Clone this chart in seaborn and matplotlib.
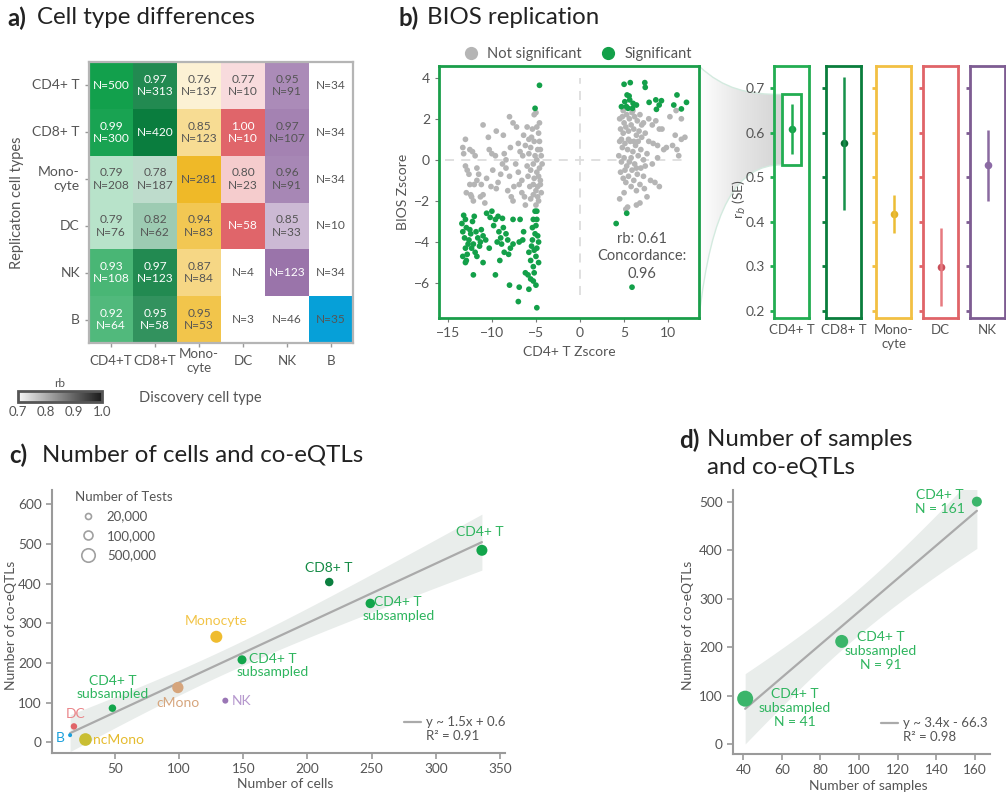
import numpy as np
import pandas as pd
import matplotlib
matplotlib.use("Agg")
import matplotlib.pyplot as plt
import seaborn as sns
from matplotlib.colors import LinearSegmentedColormap, Normalize
from matplotlib.cm import ScalarMappable
from matplotlib.lines import Line2D
from matplotlib.path import Path
from matplotlib.patches import PathPatch, Rectangle

sns.set_style("ticks")
plt.rcParams["font.family"] = ["Lato", "DejaVu Sans"]
plt.rcParams["axes.edgecolor"] = "#999999"
plt.rcParams["xtick.color"] = "#999999"
plt.rcParams["ytick.color"] = "#999999"
plt.rcParams["xtick.labelcolor"] = "#555555"
plt.rcParams["ytick.labelcolor"] = "#555555"
plt.rcParams["axes.labelcolor"] = "#555555"
TXT = "#555555"

# ---------------- data ----------------
# (a) cell type differences: replication rows x discovery columns
discovery_types = ["CD4+T", "CD8+T", "Mono-\ncyte", "DC", "NK", "B"]
replication_types = ["CD4+ T", "CD8+ T", "Mono-\ncyte", "DC", "NK", "B"]
nan = np.nan
rb_matrix = [
    [nan, 0.97, 0.76, 0.77, 0.95, nan],
    [0.99, nan, 0.85, 1.00, 0.97, nan],
    [0.79, 0.78, nan, 0.80, 0.96, nan],
    [0.79, 0.82, 0.94, nan, 0.85, nan],
    [0.93, 0.97, 0.87, nan, nan, nan],
    [0.92, 0.95, 0.95, nan, nan, nan],
]
n_matrix = [
    [500, 313, 137, 10, 91, 34],
    [300, 420, 123, 10, 107, 34],
    [208, 187, 281, 23, 91, 34],
    [76, 62, 83, 58, 33, 10],
    [108, 123, 84, 4, 123, 34],
    [64, 58, 53, 3, 46, 35],
]
column_colors = ["#12a04c", "#0a7d3e", "#efb928", "#e0656a", "#9a74aa", "#06a0d8"]

# (b) BIOS replication z-scores
sig_x = [-13.2, -13.0, -13.4, -12.9, -13.3, -13.1, -12.5, -12.2, -12.0, -12.4, -12.6, -12.1,
         -11.8, -11.6, -11.4, -11.2, -11.0, -13.0, -12.8, -13.3, -12.9, -12.3, -11.9, -11.7,
         -11.0, -12.1, -10.0, -10.2, -10.6, -9.6, -9.3, -8.8, -9.2, -9.0, -8.7, -8.4, -8.2,
         -9.4, -8.9, -9.1, -8.6, -7.9, -7.6, -8.1, -7.6, -6.8, -6.4, -6.9, -6.5, -9.6, -8.0,
         -6.9, -5.8, -7.0, -4.9, -6.2, -5.9, -5.6, -5.3, -5.0, -5.2, -5.6, -5.5, -5.2, -4.9,
         -4.7, -4.8, -5.1, -5.4, -5.0, -4.9, -5.3, -5.1, -4.9, -5.4, -4.7, -5.8, -5.0, -5.3,
         -10.7, -10.3, -11.3, -12.7, -13.0, -9.8, -4.6, -5.1,
         5.0, 5.7, 7.35, 7.4, 5.34, 5.57, 5.08, 5.64, 6.02, 6.4, 5.27, 4.7, 5.45, 5.95, 7.84,
         8.6, 9.24, 8.98, 8.67, 10.64, 11.0, 11.5, 12.08, 4.1, 5.3, 5.9]
sig_y = [-2.7, -2.9, -3.1, -3.3, -3.5, -3.8, -3.4, -3.0, -2.75, -3.6, -3.9, -4.1,
         -3.5, -3.8, -4.2, -3.4, -3.7, -4.3, -4.6, -4.7, -4.9, -4.3, -4.5, -4.7,
         -5.0, -5.6, -2.5, -2.8, -2.6, -2.9, -2.75, -2.85, -3.5, -3.8, -3.3, -3.6, -3.9,
         -4.0, -4.1, -4.9, -4.5, -4.3, -4.1, -4.6, -2.9, -2.9, -3.5, -4.0, -3.9, -5.6, -6.1,
         -6.2, -6.3, -6.9, -7.2, -5.5, -5.6, -5.8, -5.9, -6.1, -5.5, -4.9, -4.2, -4.4, -4.3,
         -4.0, -3.7, -3.6, -3.3, -3.2, -2.9, -2.9, -2.5, -2.5, -3.9, -5.0, -4.5, -4.7, -5.2,
         -3.9, -4.3, -4.0, -4.1, -5.0, -3.2, 3.63, 2.51,
         3.68, 3.76, 3.76, 3.53, 3.16, 3.11, 2.83, 2.92, 2.75, 2.67, 2.59, 2.59, 2.51, 2.51, 2.80,
         2.92, 2.88, 2.67, 2.46, 2.67, 3.16, 2.48, 2.80, -3.1, -2.6, -6.2]
ns_x = [-13.3, -13.0, -13.2, -12.5, -12.2, -11.9, -12.8, -12.6, -12.9, -12.4, -12.0, -11.7,
        -11.5, -12.1, -11.3, -11.0, -10.8, -11.2, -11.0, -10.4, -10.3, -10.0, -9.6, -9.9,
        -10.1, -9.5, -9.3, -9.0, -8.8, -8.6, -8.7, -9.5, -8.4, -8.0, -8.2, -7.8, -7.6, -8.0,
        -7.6, -7.2, -7.0, -6.8, -7.3, -7.0, -6.9, -6.6, -6.3, -6.2, -6.5, -6.2, -6.0, -5.8,
        -5.6, -5.4, -5.2, -5.0, -4.9, -4.7, -4.6, -4.8, -5.1, -5.3, -5.6, -5.9, -5.2, -4.9,
        -4.6, -4.5, -4.8, -5.0, -5.3, -5.6, -4.7, -4.4, -4.4, -4.3, -4.5, -5.0, -5.7, -6.0,
        -5.5, -4.7, -4.9, -5.2, -6.6, -7.5, -8.4, -10.6, -11.7, -12.3, -12.5, -13.0, -7.9,
        -6.4, -4.5, -4.8, -5.3, -4.6, -5.8,
        4.5, 4.8, 5.0, 5.3, 5.6, 5.9, 6.2, 6.5, 6.8, 7.2, 7.8, 8.2, 4.6, 4.9, 5.2, 5.5, 5.8,
        6.1, 6.4, 6.7, 7.0, 7.4, 7.8, 8.3, 8.8, 9.3, 9.8, 10.5, 11.0, 11.5, 11.9, 10.9, 11.5,
        10.2, 9.0, 8.6, 4.5, 4.8, 5.1, 5.4, 5.7, 6.0, 6.3, 6.6, 6.9, 7.2, 7.6, 4.4, 4.7, 5.0,
        5.3, 5.6, 5.9, 6.2, 6.5, 6.9, 7.2, 4.6, 4.9, 5.2, 5.5, 5.8, 6.1, 6.4, 6.8, 7.3, 7.6,
        8.0, 8.5, 9.0, 4.5, 5.0, 5.4, 6.4, 6.8, 5.2, 7.4, 8.2, 8.8, 9.5, 10.8, 11.2, 6.0, 5.5,
        4.9, 6.6, 5.1, 7.0, 4.7, 5.8, 6.4, 6.1]
ns_y = [0.6, 1.0, 0.3, 0.5, 0.4, 0.2, -0.5, -0.7, -1.6, -1.7, -1.2, -1.0,
        -0.7, -2.0, -1.8, -1.7, -2.1, -1.2, 1.7, 1.1, 0.5, 0.3, 0.2, -0.5,
        -1.3, -1.4, -1.1, -0.7, -0.2, 0.3, 1.2, 1.4, -0.4, -0.8, -1.5, -1.8, -2.0, 2.1,
        1.8, 1.6, 0.8, 0.4, -0.2, -0.6, -1.2, -1.6, -1.8, -2.2, 0.2, 0.7, 1.6, 1.0,
        0.6, 1.5, 2.2, 2.3, 1.6, 1.3, 0.9, 0.5, 0.2, -0.2, -0.5, -0.8, -0.9, -0.6,
        -0.4, -1.0, -1.3, -1.5, -1.7, -1.9, -2.0, -1.6, 0.2, -0.2, -1.2, -2.2, -1.3, -0.3,
        1.1, -0.8, 0.0, 0.9, -1.0, -1.3, 0.0, -0.9, -0.4, -1.8, -1.2, -0.3, 0.6,
        1.2, 0.5, -1.8, -1.2, 1.8, 0.3,
        2.0, 2.1, 1.8, 2.2, 2.0, 2.3, 2.1, 1.9, 2.2, 1.8, 2.0, 1.7, 1.5, 1.3, 1.6, 1.4, 1.7,
        1.5, 1.2, 1.4, 1.1, 1.3, 0.9, 0.8, 0.7, 1.5, 0.6, 0.7, 0.5, 1.0, 1.1, 2.4, 2.0,
        2.1, 1.5, 1.9, 0.9, 0.6, 0.8, 0.5, 0.9, 0.4, 0.7, 0.2, 0.5, 0.0, 0.3, 0.2, -0.1, 0.1,
        -0.3, -0.1, -0.5, -0.2, -0.7, -0.4, -0.8, -0.6, -0.9, -1.1, -0.8, -1.3, -1.0, -1.5, -1.2, -1.4, -1.8,
        -1.0, -1.1, -1.3, -1.9, -1.6, -2.3, -2.2, -2.1, -2.4, -0.3, -0.2, 0.1, 0.5, 1.2, 0.2, 2.4, 1.0,
        2.4, 0.9, -0.5, 1.7, 1.0, 0.1, -0.4, 0.9]
rb_annotation = "rb: 0.61\nConcordance:\n0.96"

# (b, right) replication rb per cell type
rep_types = ["CD4+ T", "CD8+ T", "Mono-\ncyte", "DC", "NK"]
rep_rb = [0.608, 0.576, 0.418, 0.298, 0.527]
rep_se = [0.056, 0.150, 0.043, 0.088, 0.080]

# (c) number of cells vs co-eQTLs
c_labels = ["B", "DC", "ncMono", "CD4+ T\nsubsampled", "cMono", "Monocyte", "NK",
            "CD4+ T\nsubsampled", "CD8+ T", "CD4+ T\nsubsampled", "CD4+ T"]
c_groups = ["B", "DC", "ncMono", "CD4+ T", "cMono", "Monocyte", "NK",
            "CD4+ T", "CD8+ T", "CD4+ T", "CD4+ T"]
c_cells = [15, 18, 27, 48, 99, 129, 136, 149, 217, 249, 336]
c_coeqtl = [18, 40, 7, 86, 138, 266, 105, 208, 404, 350, 484]
c_tests = [4000, 27000, 400000, 49000, 250000, 320000, 20000, 100000, 80000, 126000, 226000]
legend_tests = [20000, 100000, 500000]
c_slope, c_intercept, c_r2 = 1.5, 0.6, 0.91

# (d) number of samples vs co-eQTLs
d_labels = ["CD4+ T\nsubsampled\nN = 41", "CD4+ T\nsubsampled\nN = 91", "CD4+ T\nN = 161"]
d_samples = [41, 91, 161]
d_coeqtl = [94, 212, 500]
d_slope, d_intercept, d_r2 = 3.4, -66.3, 0.98

# ---------------- layout helpers ----------------
W, H = 1006, 795
fig = plt.figure(figsize=(W / 100, H / 100), dpi=100)


def px(l, t, r, b):
    return [l / W, 1 - b / H, (r - l) / W, (b - t) / H]


TITLE_SIZE = 17.3


def panel_title(x, y, letter, lines, gap=30, line_step=27):
    fig.text(x / W, 1 - y / H, letter, fontsize=TITLE_SIZE, fontweight="bold", color="#222222",
             va="center")
    for k, line in enumerate(lines):
        fig.text((x + gap) / W, 1 - (y + k * line_step) / H, line, fontsize=TITLE_SIZE,
                 color="#222222", va="center")


panel_title(7, 18, "a)", ["Cell type differences"])
panel_title(398, 18, "b)", ["BIOS replication"], gap=29)
panel_title(9, 455, "c)", ["Number of cells and co-eQTLs"], gap=33)
panel_title(679, 440, "d)", ["Number of samples", "and co-eQTLs"], gap=28)

# ---------------- (a) heatmap ----------------
ax_a = fig.add_axes(px(89, 62, 353, 343))
shade = np.array(rb_matrix, dtype=float)
for i in range(len(shade)):
    shade[i, i] = 1.0
shade_df = pd.DataFrame(shade, index=replication_types, columns=discovery_types)
for j, col_color in enumerate(column_colors):
    cmap = LinearSegmentedColormap.from_list(f"col{j}", ["#ffffff", col_color])
    mask = np.ones_like(shade, dtype=bool)
    mask[:, j] = np.isnan(shade[:, j])
    sns.heatmap(shade_df, mask=mask, cmap=cmap, vmin=0.7, vmax=1.0, cbar=False,
                ax=ax_a, linewidths=0)

light_cols = {0, 1, 3}
for i in range(6):
    for j in range(6):
        r = rb_matrix[i][j]
        n = n_matrix[i][j]
        label = f"N={n}" if np.isnan(r) else f"{r:.2f}\nN={n}"
        light = (i == j and j in (0, 1, 3, 4)) or (
            not np.isnan(r) and j in light_cols and (r - 0.7) / 0.3 > 0.6)
        ax_a.text(j + 0.5, i + 0.5, label, ha="center", va="center", fontsize=8.6,
                  color="white" if light else TXT, linespacing=1.15)

for s in ax_a.spines.values():
    s.set_visible(True)
    s.set_color("#b5b5b5")
    s.set_linewidth(1.6)
ax_a.set_xticklabels(discovery_types, rotation=0, va="center")
ax_a.set_yticklabels(replication_types, rotation=0, va="center")
ax_a.tick_params(axis="both", length=3, width=1, color="#999999", labelsize=10,
                 labelcolor=TXT)
ax_a.tick_params(axis="x", pad=10, labelsize=9.6)
ax_a.set_xlabel("Discovery cell type", fontsize=10.5, color=TXT)
ax_a.set_ylabel("Replicaton cell types", fontsize=10.5, color=TXT)
ax_a.xaxis.set_label_coords(0.42, -0.17)
ax_a.yaxis.set_label_coords(-0.245, 0.5)

# rb colour scale
ax_cb = fig.add_axes(px(18, 391, 102, 402))
grey = LinearSegmentedColormap.from_list("rbgrey", ["#f7f7f7", "#1a1a1a"])
cb = fig.colorbar(ScalarMappable(norm=Normalize(0.7, 1.0), cmap=grey), cax=ax_cb,
                  orientation="horizontal", ticks=[0.7, 0.8, 0.9, 1.0])
cb.outline.set_edgecolor("#555555")
cb.outline.set_linewidth(2)
ax_cb.tick_params(length=0, labelsize=9.5, labelcolor=TXT, pad=3)
ax_cb.set_xticklabels(["0.7", "0.8", "0.9", "1.0"])
ax_cb.set_title("rb", fontsize=8.5, color=TXT, pad=3)

# ---------------- (b) scatter ----------------
green_frame = "#1a9e4a"
ax_b = fig.add_axes(px(439, 66, 699, 318))
df_b = pd.DataFrame({
    "x": ns_x + sig_x,
    "y": ns_y + sig_y,
    "status": ["Not significant"] * len(ns_x) + ["Significant"] * len(sig_x),
})
ax_b.vlines(0, -6.6, 4.0, colors="#dddddd", linestyles=(0, (5, 4)), linewidth=1.3, zorder=0)
ax_b.hlines(0, -15.3, 12.0, colors="#dddddd", linestyles=(0, (5, 4)), linewidth=1.3, zorder=0)
sns.scatterplot(data=df_b, x="x", y="y", hue="status",
                palette={"Not significant": "#b5b5b5", "Significant": "#13a049"},
                s=17, linewidth=0, ax=ax_b, legend=False, zorder=2)
ax_b.set_xlim(-16.0, 13.5)
ax_b.set_ylim(-7.7, 4.57)
ax_b.set_xticks([-15, -10, -5, 0, 5, 10])
ax_b.set_yticks([4, 2, 0, -2, -4, -6])
for s in ax_b.spines.values():
    s.set_visible(True)
    s.set_color(green_frame)
    s.set_linewidth(2)
ax_b.tick_params(length=3, color="#777777", labelsize=10, labelcolor=TXT)
ax_b.set_xlabel("CD4+ T Zscore", fontsize=10, color=TXT)
ax_b.set_ylabel("BIOS Zscore", fontsize=10, color=TXT)
ax_b.xaxis.set_label_coords(0.5, -0.11)
ax_b.yaxis.set_label_coords(-0.115, 0.5)
ax_b.text(7.0, -4.7, rb_annotation, ha="center", va="center", fontsize=10.5,
          color=TXT, linespacing=1.3)
b_handles = [Line2D([], [], marker="o", ls="", color="#b5b5b5", markersize=8.5),
             Line2D([], [], marker="o", ls="", color="#13a049", markersize=8.5)]
ax_b.legend(b_handles, ["Not significant", "Significant"], loc="lower center",
            bbox_to_anchor=(0.52, 0.99), ncol=2, frameon=False, fontsize=10.5,
            handletextpad=0.1, columnspacing=0.8, borderaxespad=0.1, labelcolor=TXT)

# ---------------- (b, right) rb estimates ----------------
box_colors = ["#22ad52", "#0a7d3c", "#f2c043", "#e06468", "#7d5c92"]
bar_colors = ["#1eab50", "#17914b", "#ecbd35", "#e77a80", "#8a6aa0"]
dot_colors = ["#16a04a", "#0b6b35", "#e2b22a", "#c9505a", "#8c6aa6"]
box_lefts = [774, 826, 876, 923, 970]
rep_axes = []
for k, name in enumerate(rep_types):
    ax = fig.add_axes(px(box_lefts[k], 66, box_lefts[k] + 35, 318))
    ax.set_facecolor("none")
    rep_axes.append(ax)
    ax.vlines(0, rep_rb[k] - rep_se[k], rep_rb[k] + rep_se[k], colors=bar_colors[k], linewidth=1.8)
    sns.scatterplot(x=[0], y=[rep_rb[k]], color=dot_colors[k], s=30, linewidth=0, ax=ax)
    ax.set_xlim(-1, 1)
    ax.set_ylim(0.184, 0.75)
    ax.set_xticks([])
    ax.set_yticks([0.2, 0.3, 0.4, 0.5, 0.6, 0.7])
    for s in ax.spines.values():
        s.set_visible(True)
        s.set_color(box_colors[k])
        s.set_linewidth(2)
    ax.tick_params(axis="y", length=3, width=2, color=box_colors[k], labelsize=10,
                   labelcolor=TXT, labelleft=(k == 0))
    ax.set_xlabel(name, fontsize=9.5, color=TXT, labelpad=4, linespacing=1.25)
    if k == 0:
        ax.set_ylabel("r$_b$ (SE)", fontsize=10, color=TXT)
        ax.yaxis.set_label_coords(-0.74, 0.47)

# highlight around the CD4+ T estimate
ax0 = rep_axes[0]
hl_lo = rep_rb[0] - rep_se[0] - 0.024
hl_hi = rep_rb[0] + rep_se[0] + 0.022
ax0.add_patch(Rectangle((-0.55, hl_lo), 1.08, hl_hi - hl_lo, fill=False,
                        edgecolor=box_colors[0], linewidth=2))

# funnel from the scatter frame to the highlighted estimate
x_end_px, y_top_px = ax0.transData.transform((-0.55, hl_hi))
_, y_bot_px = ax0.transData.transform((-0.55, hl_lo))
fx0, fx1 = 699, x_end_px
fy_bot, fy_top = H - 318, H - 66
ax_f = fig.add_axes([fx0 / W, fy_bot / H, (fx1 - fx0) / W, (fy_top - fy_bot) / H], zorder=-1)
ax_f.set_xlim(0, 1)
ax_f.set_ylim(0, 1)
ax_f.axis("off")
yt = (y_top_px - fy_bot) / (fy_top - fy_bot)
yb = (y_bot_px - fy_bot) / (fy_top - fy_bot)
verts = [(0, 1), (0.3, yt + 0.02), (0.6, yt), (1, yt), (1, yb),
         (0.45, yb), (0.15, yb - 0.17), (0, 0), (0, 1)]
codes = [Path.MOVETO, Path.CURVE4, Path.CURVE4, Path.CURVE4, Path.LINETO,
         Path.CURVE4, Path.CURVE4, Path.CURVE4, Path.CLOSEPOLY]
funnel = PathPatch(Path(verts, codes), facecolor="none", edgecolor="none")
ax_f.add_patch(funnel)
grad = np.linspace(0, 1, 256).reshape(1, -1)
im = ax_f.imshow(grad, extent=(0, 1, 0, 1), aspect="auto", origin="lower",
                 cmap=LinearSegmentedColormap.from_list("fun", ["#ffffff", "#e6e6e6", "#d4d4d4"]))
im.set_clip_path(funnel)
top_curve = Path(verts[:4], codes[:4])
bot_curve = Path([(1, yb), (0.45, yb), (0.15, yb - 0.17), (0, 0)], codes[:4])
for pth in (top_curve, bot_curve):
    ax_f.add_patch(PathPatch(pth, facecolor="none", edgecolor="#d3eadf", linewidth=1))

# ---------------- (c) cells vs co-eQTLs ----------------
def marker_area(n):
    d_px = 6.0 * (n / 20000.0) ** 0.25
    return (0.72 * d_px) ** 2


ax_c = fig.add_axes(px(52, 490, 505, 753))
sns.despine(ax=ax_c)
for s in ("left", "bottom"):
    ax_c.spines[s].set_color("#9a9a9a")
    ax_c.spines[s].set_linewidth(1.5)

xs = np.array(c_cells, float)
ys = np.array(c_coeqtl, float)
xfit = np.linspace(xs.min(), xs.max(), 100)
yfit = c_slope * xfit + c_intercept
resid = ys - (c_slope * xs + c_intercept)
s_res = np.sqrt(np.sum(resid ** 2) / (len(xs) - 2))
se_fit = s_res * np.sqrt(1 / len(xs) + (xfit - xs.mean()) ** 2 / np.sum((xs - xs.mean()) ** 2))
ax_c.fill_between(xfit, yfit - 1.96 * se_fit, yfit + 1.96 * se_fit, color="#e9edeb", linewidth=0, zorder=0)
ax_c.plot(xfit, yfit, color="#aaaaaa", linewidth=1.6, zorder=1)

c_palette = {"B": "#1aa0dc", "DC": "#e06468", "ncMono": "#c9be33", "CD4+ T": "#12a54b",
             "cMono": "#d6a57c", "Monocyte": "#efbc2f", "NK": "#9a76b5", "CD8+ T": "#0b7f3f"}
label_colors = {"B": "#1aa0dc", "DC": "#ea8589", "ncMono": "#e5bb2e", "CD4+ T": "#2eb55e",
                "cMono": "#d6a57c", "Monocyte": "#f2c447", "NK": "#b597cd", "CD8+ T": "#138a44"}
df_c = pd.DataFrame({"cells": c_cells, "coeqtl": c_coeqtl, "group": c_groups, "tests": c_tests})
sns.scatterplot(data=df_c, x="cells", y="coeqtl", hue="group", palette=c_palette,
                size="tests", sizes={n: marker_area(n) for n in c_tests},
                linewidth=0, legend=False, ax=ax_c, zorder=3)

c_offsets = [(-5, -3, "right", "center"), (2, 6, "center", "bottom"), (8, 0, "left", "center"),
             (0, 8, "center", "bottom"), (0, -9, "center", "top"), (0, 10, "center", "bottom"),
             (6, 0, "left", "center"), (31, 7, "center", "top"), (0, 8, "center", "bottom"),
             (28, 7, "center", "top"), (-2, 12, "center", "bottom")]
for (lx, ly, lab, grp, (dx, dy, ha, va)) in zip(c_cells, c_coeqtl, c_labels, c_groups, c_offsets):
    ax_c.annotate(lab, (lx, ly), xytext=(dx, dy), textcoords="offset pixels", ha=ha, va=va,
                  fontsize=10, color=label_colors[grp], linespacing=1.15, multialignment="center")

ax_c.set_xlim(0.9, 354)
ax_c.set_ylim(-27, 636)
ax_c.set_xticks([50, 100, 150, 200, 250, 300, 350])
ax_c.set_yticks([0, 100, 200, 300, 400, 500, 600])
ax_c.tick_params(length=4, width=1.2, color="#9a9a9a", labelsize=9.8, labelcolor=TXT)
ax_c.set_xlabel("Number of cells", fontsize=10, color=TXT)
ax_c.set_ylabel("Number of co-eQTLs", fontsize=10, color=TXT)
ax_c.xaxis.set_label_coords(0.514, -0.095)
ax_c.yaxis.set_label_coords(-0.078, 0.487)

size_handles = [Line2D([], [], marker="o", ls="", markerfacecolor="none", markeredgecolor="#a0a0a0",
                       markeredgewidth=1.2, markersize=np.sqrt(marker_area(n))) for n in legend_tests]
leg_sz = ax_c.legend(size_handles, [f"{n:,}" for n in legend_tests], title="Number of Tests",
                     loc="upper left", bbox_to_anchor=(0.025, 1.04), frameon=False, fontsize=9.5,
                     title_fontsize=9.5, labelspacing=0.55, handletextpad=0.4, labelcolor=TXT,
                     alignment="left")
leg_sz.get_title().set_color(TXT)
ax_c.add_artist(leg_sz)

blank = Line2D([], [], linestyle="none")
ax_c.legend([Line2D([], [], color="#aaaaaa", linewidth=1.6), blank],
            ["y ~ 1.5x + 0.6", f"R² = {c_r2:.2f}"],
            loc="lower right", bbox_to_anchor=(1.012, 0.02), frameon=False, fontsize=9.5,
            handlelength=1.3, handletextpad=0.35, labelspacing=0.15, borderaxespad=0,
            labelcolor=TXT)

# ---------------- (d) samples vs co-eQTLs ----------------
ax_d = fig.add_axes(px(733, 490, 990, 754))
sns.despine(ax=ax_d)
for s in ("left", "bottom"):
    ax_d.spines[s].set_color("#9a9a9a")
    ax_d.spines[s].set_linewidth(1.5)
xd = np.array(d_samples, float)
yd = np.array(d_coeqtl, float)
xfd = np.linspace(xd.min(), xd.max(), 100)
yfd = d_slope * xfd + d_intercept
rd = yd - (d_slope * xd + d_intercept)
sd = np.sqrt(np.sum(rd ** 2) / (len(xd) - 2))
sefd = sd * np.sqrt(1 / len(xd) + (xfd - xd.mean()) ** 2 / np.sum((xd - xd.mean()) ** 2))
ax_d.fill_between(xfd, yfd - 1.96 * sefd, yfd + 1.96 * sefd, color="#e9edeb", linewidth=0, zorder=0)
ax_d.plot(xfd, yfd, color="#aaaaaa", linewidth=1.6, zorder=1)
d_marker_px = [16, 13, 10]
df_d = pd.DataFrame({"samples": d_samples, "coeqtl": d_coeqtl, "label": d_labels})
sns.scatterplot(data=df_d, x="samples", y="coeqtl", hue="label",
                palette={lab: "#3bb56a" for lab in d_labels}, size="label",
                sizes={lab: (0.72 * dp) ** 2 for lab, dp in zip(d_labels, d_marker_px)},
                linewidth=0, legend=False, ax=ax_d, zorder=3)
d_offsets = [(50, 11, "center", "top"), (39, 10, "center", "top"), (-37, 0, "center", "center")]
for (lx, ly, lab, (dx, dy, ha, va)) in zip(d_samples, d_coeqtl, d_labels, d_offsets):
    ax_d.annotate(lab, (lx, ly), xytext=(dx, dy), textcoords="offset pixels", ha=ha, va=va,
                  fontsize=10, color="#2eb55e", linespacing=1.2, multialignment="center")
ax_d.set_xlim(34.7, 167.8)
ax_d.set_ylim(-20, 524)
ax_d.set_xticks([40, 60, 80, 100, 120, 140, 160])
ax_d.set_yticks([0, 100, 200, 300, 400, 500])
ax_d.tick_params(length=4, width=1.2, color="#9a9a9a", labelsize=9.8, labelcolor=TXT)
ax_d.set_xlabel("Number of samples", fontsize=10, color=TXT)
ax_d.set_ylabel("Number of co-eQTLs", fontsize=10, color=TXT)
ax_d.xaxis.set_label_coords(0.525, -0.1)
ax_d.yaxis.set_label_coords(-0.15, 0.489)
ax_d.legend([Line2D([], [], color="#aaaaaa", linewidth=1.6), blank],
            ["y ~ 3.4x - 66.3", f"R² = {d_r2:.2f}"],
            loc="lower right", bbox_to_anchor=(1.01, 0.02), frameon=False, fontsize=9.5,
            handlelength=1.3, handletextpad=0.35, labelspacing=0.15, borderaxespad=0,
            labelcolor=TXT)

fig.savefig("out.png", dpi=100)
